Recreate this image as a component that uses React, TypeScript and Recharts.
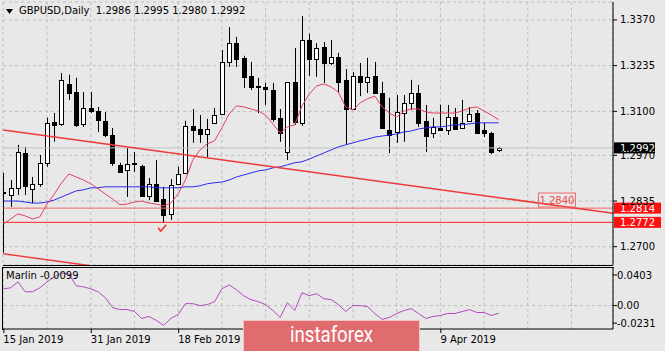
import React from 'react';
import {
  ComposedChart,
  Bar,
  Line,
  XAxis,
  YAxis,
  CartesianGrid,
  ReferenceLine,
  ReferenceDot,
} from 'recharts';

// GBPUSD daily bars, 15 Jan 2019 .. 19 Apr 2019 (bar index = position on the time axis)
const opens = [
  1.2862, 1.2853, 1.2874, 1.2977, 1.2871, 1.2886, 1.2948, 1.3068, 1.3063, 1.3181,
  1.3157, 1.3063, 1.311, 1.3101, 1.3072, 1.303, 1.2942, 1.2927, 1.2948, 1.2939,
  1.285, 1.2886, 1.2841, 1.2797, 1.2886, 1.2918, 1.3057, 1.3048, 1.3033, 1.3066,
  1.3092, 1.3246, 1.3302, 1.3258, 1.3205, 1.3174, 1.3172, 1.3163, 1.3081, 1.298,
  1.3187, 1.3066, 1.3311, 1.3255, 1.329, 1.3243, 1.3261, 1.3193, 1.3107, 1.3205,
  1.3187, 1.3205, 1.3154, 1.3045, 1.3039, 1.3095, 1.3125, 1.3154, 1.3072, 1.3036,
  1.3051, 1.3045, 1.3084, 1.3051, 1.3072, 1.3095, 1.3045, 1.3036, 1.2986,
];
const highs = [
  1.2918, 1.2897, 1.3001, 1.2995, 1.2906, 1.2971, 1.3081, 1.3095, 1.3213, 1.3208,
  1.3199, 1.3157, 1.3157, 1.3113, 1.3098, 1.3051, 1.2948, 1.2992, 1.298, 1.2942,
  1.2903, 1.2956, 1.2877, 1.29, 1.2936, 1.3072, 1.3107, 1.3089, 1.3078, 1.311,
  1.3281, 1.3349, 1.332, 1.3264, 1.3246, 1.3199, 1.3184, 1.3184, 1.3107, 1.3187,
  1.3287, 1.3382, 1.3329, 1.3302, 1.3305, 1.3311, 1.3273, 1.3225, 1.3216, 1.3243,
  1.3258, 1.3246, 1.3187, 1.314, 1.3148, 1.3148, 1.3193, 1.3178, 1.3119, 1.3081,
  1.3119, 1.3119, 1.311, 1.3134, 1.3113, 1.3104, 1.3066, 1.3039, 1.2995,
];
const lows = [
  1.2682, 1.2818, 1.2853, 1.2853, 1.2829, 1.2877, 1.2936, 1.301, 1.3057, 1.3134,
  1.3054, 1.3054, 1.3095, 1.3039, 1.3024, 1.2939, 1.2918, 1.2847, 1.2921, 1.2847,
  1.2838, 1.2832, 1.277, 1.2779, 1.2883, 1.2915, 1.3007, 1.3007, 1.2965, 1.3063,
  1.3089, 1.3231, 1.3231, 1.3169, 1.3163, 1.3095, 1.3119, 1.3069, 1.301, 1.2956,
  1.306, 1.3057, 1.3205, 1.3202, 1.3184, 1.3237, 1.3154, 1.3001, 1.3104, 1.3145,
  1.3154, 1.3154, 1.3051, 1.2977, 1.3007, 1.301, 1.3104, 1.3054, 1.298, 1.3021,
  1.3042, 1.303, 1.3045, 1.3048, 1.3069, 1.3036, 1.3024, 1.2974, 1.298,
];
const closes = [
  1.2859, 1.2874, 1.298, 1.288, 1.2886, 1.2948, 1.3066, 1.306, 1.3193, 1.3154,
  1.306, 1.311, 1.3101, 1.3075, 1.303, 1.2948, 1.2921, 1.2945, 1.2943, 1.285,
  1.2886, 1.2835, 1.2794, 1.2883, 1.2915, 1.3057, 1.3045, 1.3033, 1.3048, 1.3089,
  1.3246, 1.3302, 1.3255, 1.3202, 1.3172, 1.3172, 1.3166, 1.3078, 1.3036, 1.3187,
  1.3069, 1.3311, 1.3255, 1.3287, 1.3243, 1.3261, 1.3187, 1.3107, 1.3205, 1.3187,
  1.3202, 1.3154, 1.3051, 1.303, 1.3098, 1.3125, 1.3154, 1.3066, 1.3027, 1.3054,
  1.3045, 1.3084, 1.3048, 1.3066, 1.3092, 1.3036, 1.3036, 1.298, 1.2992,
];

// moving averages
const maFast = [
  1.2767, 1.2782, 1.2797, 1.2791, 1.2782, 1.2788, 1.2826, 1.2856, 1.2889, 1.2915,
  1.2906, 1.2897, 1.2886, 1.2871, 1.2856, 1.2841, 1.2824, 1.2826, 1.2832, 1.2835,
  1.2829, 1.2826, 1.2821, 1.2829, 1.2856, 1.2897, 1.2956, 1.2986, 1.3004, 1.3013,
  1.3051, 1.3092, 1.3116, 1.3113, 1.3107, 1.3101, 1.3089, 1.3063, 1.3036, 1.3054,
  1.306, 1.3116, 1.3151, 1.3175, 1.3181, 1.3172, 1.3157, 1.3113, 1.3104, 1.3125,
  1.3137, 1.3145, 1.3113, 1.3095, 1.3083, 1.3101, 1.3107, 1.3107, 1.3098, 1.3095,
  1.3095, 1.3095, 1.3095, 1.3101, 1.311, 1.3113, 1.3101, 1.3089, 1.3075,
];
const maSlow = [
  1.2835, 1.2835, 1.2835, 1.2832, 1.2829, 1.2829, 1.2832, 1.2838, 1.2847, 1.2856,
  1.2865, 1.2868, 1.2874, 1.2874, 1.2877, 1.2877, 1.2877, 1.2877, 1.2877, 1.2877,
  1.2877, 1.2874, 1.2874, 1.2874, 1.2874, 1.2877, 1.2877, 1.288, 1.2886, 1.2889,
  1.2891, 1.2897, 1.2906, 1.2912, 1.2918, 1.2924, 1.2927, 1.2933, 1.2936, 1.2942,
  1.2948, 1.2951, 1.2959, 1.2968, 1.2977, 1.2986, 1.2995, 1.3001, 1.3007, 1.3013,
  1.3018, 1.3024, 1.3027, 1.303, 1.3033, 1.3039, 1.3042, 1.3048, 1.3051, 1.3054,
  1.3054, 1.3057, 1.306, 1.306, 1.3063, 1.3066, 1.3066, 1.3066, 1.3066,
];
const marlin = [
  0.0221, 0.0234, 0.0312, 0.0182, 0.0182, 0.0234, 0.0312, 0.0377, 0.0429, 0.0416,
  0.026, 0.0247, 0.0221, 0.0182, 0.0104, -0.0026, -0.0052, -0.0052, -0.0078, -0.0169,
  -0.0143, -0.0195, -0.026, -0.0169, -0.0117, 0.0026, 0.0026, 0.0, 0.0013, 0.0052,
  0.0221, 0.0273, 0.0208, 0.013, 0.0078, 0.0052, 0.0013, -0.0065, -0.0156, 0.0039,
  -0.0065, 0.0169, 0.013, 0.0156, 0.0091, 0.0078, 0.0013, -0.0078, 0.0, 0.0,
  -0.0013, -0.0104, -0.0182, -0.0156, -0.0104, -0.0065, -0.0039, -0.0104, -0.0169, -0.0143,
  -0.013, -0.0104, -0.0104, -0.0078, -0.0052, -0.0091, -0.0091, -0.013, -0.0099,
];

const priceTicks = [1.27, 1.2835, 1.297, 1.31, 1.3235, 1.337];
const marlinTicks = [-0.0231, 0, 0.0403];
const gridBars = [0, 6, 12, 18, 24, 30, 36, 42, 48, 54, 60, 66, 72, 78];
// labels at bars 36 and 48 sit under the watermark in the picture, so only these show
const dateTicks = [0, 12, 24, 60];
const dateLabels = ['15 Jan 2019', '31 Jan 2019', '18 Feb 2019', '9 Apr 2019'];

const lastPrice = 1.2992;
const levelUpper = 1.2814;
const levelLower = 1.2772;
const trendUpper = [{ x: 0, y: 1.3045 }, { x: 83.7, y: 1.2799 }];
const trendLower = [{ x: 0, y: 1.2679 }, { x: 83.7, y: 1.2434 }];
const trendLabel = { bar: 76, price: 1.2838, text: '1.2840' };
const checkMark = { bar: 21.8, price: 1.2753 };

const data = opens.map((o, i) => ({
  bar: i,
  open: o,
  high: highs[i],
  low: lows[i],
  close: closes[i],
  maFast: maFast[i],
  maSlow: maSlow[i],
  marlin: marlin[i],
}));

const FONT = 'DejaVu Sans';
const BG = '#e8e8e8';
const GRID = '#bdbdbd';
const X_DOMAIN: [number, number] = [-0.05, 83.7];

const Candle = (props: any) => {
  const { x, y, width, height, payload } = props;
  if (x == null || !payload) return null;
  const { open, close, high, low } = payload;
  const top = Math.min(y, y + height);
  const h = Math.abs(height);
  const k = high - low > 0 ? h / (high - low) : 0;
  const yOf = (p: number) => top + (high - p) * k;
  const cx = Math.round(x + width / 2) + 0.5;
  const bTop = Math.round(yOf(Math.max(open, close))) + 0.5;
  const bBot = Math.round(yOf(Math.min(open, close))) + 0.5;
  const up = close >= open;
  return (
    <g>
      <line x1={cx} x2={cx} y1={top} y2={top + h} stroke="#000" />
      <rect x={cx - 2} y={bTop} width={4} height={Math.max(0, bBot - bTop)} fill={up ? '#fff' : '#000'} stroke="#000" />
    </g>
  );
};

const PriceTag = (props: any) => {
  const { viewBox, text, bg, w } = props;
  if (!viewBox) return null;
  const x = viewBox.x + viewBox.width + 1;
  const y = viewBox.y;
  return (
    <g>
      <rect x={x} y={y - 5.5} width={w} height={11} fill={bg} />
      <text x={x + 6} y={y + 4} fill="#fff" fontSize={10} fontFamily={FONT}>
        {text}
      </text>
    </g>
  );
};

const DateTick = (props: any) => {
  const { x, y, payload } = props;
  const idx = dateTicks.indexOf(payload.value);
  if (idx < 0) return null;
  return (
    <g>
      <line x1={x + 0.5} x2={x + 0.5} y1={y} y2={y + 4} stroke="#000" />
      <text x={x} y={y + 14} fontSize={10} fontFamily={FONT} fill="#000">
        {dateLabels[idx]}
      </text>
    </g>
  );
};

export default function App() {
  return (
    <div style={{ position: 'absolute', left: 0, top: 0, width: 665, height: 351, background: BG, overflow: 'hidden' }}>
      <div style={{ position: 'absolute', left: 0, top: 0 }}>
        <ComposedChart width={665} height={267} data={data} margin={{ top: 2, right: 0, bottom: 2, left: 3 }}>
          <CartesianGrid stroke={GRID} strokeDasharray="3 3" />
          <XAxis
            type="number"
            dataKey="bar"
            domain={X_DOMAIN}
            ticks={gridBars.filter((b) => b > 0)}
            allowDataOverflow
            hide
          />
          <YAxis
            orientation="right"
            domain={[1.2646, 1.3423]}
            ticks={priceTicks}
            interval={0}
            allowDataOverflow
            width={52}
            tickFormatter={(v: number) => v.toFixed(4)}
            axisLine={{ stroke: '#000' }}
            tickLine={{ stroke: '#000' }}
            tickSize={4}
            tickMargin={3}
            tick={{ fill: '#000', fontSize: 10, fontFamily: FONT }}
          />
          <ReferenceLine y={lastPrice} stroke="#c2c2c2" label={(p: any) => <PriceTag {...p} text="1.2992" bg="#000" w={41} />} />
          <ReferenceLine y={levelUpper} stroke="#f06a6a" label={(p: any) => <PriceTag {...p} text="1.2814" bg="#ff1010" w={47} />} />
          <ReferenceLine y={levelLower} stroke="#ff2020" label={(p: any) => <PriceTag {...p} text="1.2772" bg="#ff1010" w={47} />} />
          <Bar dataKey={(d: any) => [d.low, d.high]} barSize={5} shape={Candle} isAnimationActive={false} />
          <Line type="linear" dataKey="maSlow" stroke="#2a2aee" strokeWidth={1} dot={false} isAnimationActive={false} />
          <Line type="linear" dataKey="maFast" stroke="#e4425e" strokeWidth={1} dot={false} isAnimationActive={false} />
          <ReferenceLine segment={trendUpper} stroke="#f03a3a" strokeWidth={1.5} ifOverflow="hidden" />
          <ReferenceLine segment={trendLower} stroke="#f03a3a" strokeWidth={1.5} ifOverflow="hidden" />
          <ReferenceDot
            x={trendLabel.bar}
            y={trendLabel.price}
            r={0}
            shape={(p: any) => (
              <g>
                <rect x={p.cx - 18.5} y={p.cy - 7} width={37} height={14} fill="none" stroke="#f06a6a" />
                <text x={p.cx} y={p.cy + 4} textAnchor="middle" fill="#f04a4a" fontSize={10} fontFamily={FONT}>
                  {trendLabel.text}
                </text>
              </g>
            )}
          />
          <ReferenceDot
            x={checkMark.bar}
            y={checkMark.price}
            r={0}
            shape={(p: any) => (
              <path d={`M${p.cx - 4},${p.cy - 1} L${p.cx - 1.5},${p.cy + 2.5} L${p.cx + 4},${p.cy - 4}`} fill="none" stroke="#ff2a2a" strokeWidth={1.5} />
            )}
          />
        </ComposedChart>
      </div>

      <div style={{ position: 'absolute', left: 0, top: 267 }}>
        <ComposedChart width={665} height={84} data={data} margin={{ top: 0, right: 0, bottom: 0, left: 3 }}>
          <CartesianGrid stroke={GRID} strokeDasharray="3 3" horizontal={false} />
          <XAxis
            type="number"
            dataKey="bar"
            domain={X_DOMAIN}
            ticks={gridBars}
            interval={0}
            allowDataOverflow
            height={22}
            axisLine={{ stroke: '#000' }}
            tickLine={false}
            tickSize={0}
            tickMargin={0}
            tick={<DateTick />}
          />
          <YAxis
            orientation="right"
            domain={[-0.0308, 0.0508]}
            ticks={marlinTicks}
            interval={0}
            allowDataOverflow
            width={52}
            tickFormatter={(v: number) => (v === 0 ? '0.00' : v.toFixed(4))}
            axisLine={{ stroke: '#000' }}
            tickLine={{ stroke: '#000' }}
            tickSize={4}
            tickMargin={0}
            tick={{ fill: '#000', fontSize: 10, fontFamily: FONT }}
          />
          <ReferenceLine y={0} stroke={GRID} strokeDasharray="3 3" />
          <Line type="linear" dataKey="marlin" stroke="#b04cbc" strokeWidth={1} dot={false} isAnimationActive={false} />
        </ComposedChart>
      </div>

      {/* panel frames */}
      <div style={{ position: 'absolute', left: 3, top: 0, width: 610, height: 265, borderBottom: '1px solid #000' }} />
      <div style={{ position: 'absolute', left: 2, top: 267, width: 611, height: 62, borderTop: '1px solid #000', borderLeft: '1px solid #000' }} />

      {/* chart caption */}
      <svg style={{ position: 'absolute', left: 6, top: 9 }} width={8} height={6}>
        <polygon points="0,0 7,0 3.5,5" fill="#000" />
      </svg>
      <div style={{ position: 'absolute', left: 19, top: 5, fontFamily: FONT, fontSize: 10, lineHeight: '12px', color: '#000', whiteSpace: 'pre' }}>
        GBPUSD,Daily  1.2986 1.2995 1.2980 1.2992
      </div>
      <div style={{ position: 'absolute', left: 6, top: 270, fontFamily: FONT, fontSize: 10, lineHeight: '12px', color: '#000', whiteSpace: 'pre' }}>
        Marlin -0.0099
      </div>

      {/* watermark */}
      <div style={{ position: 'absolute', left: 243, top: 320, width: 177, height: 34, background: '#e06c70', border: '1px solid #f2c4c4', boxSizing: 'border-box' }}>
        <svg width={177} height={34} style={{ position: 'absolute', left: -1, top: -1 }}>
          <text x={47} y={22} fill="#fff" fontSize={22} fontFamily="Roboto" textLength={83} lengthAdjust="spacingAndGlyphs">
            instaforex
          </text>
        </svg>
      </div>
    </div>
  );
}
